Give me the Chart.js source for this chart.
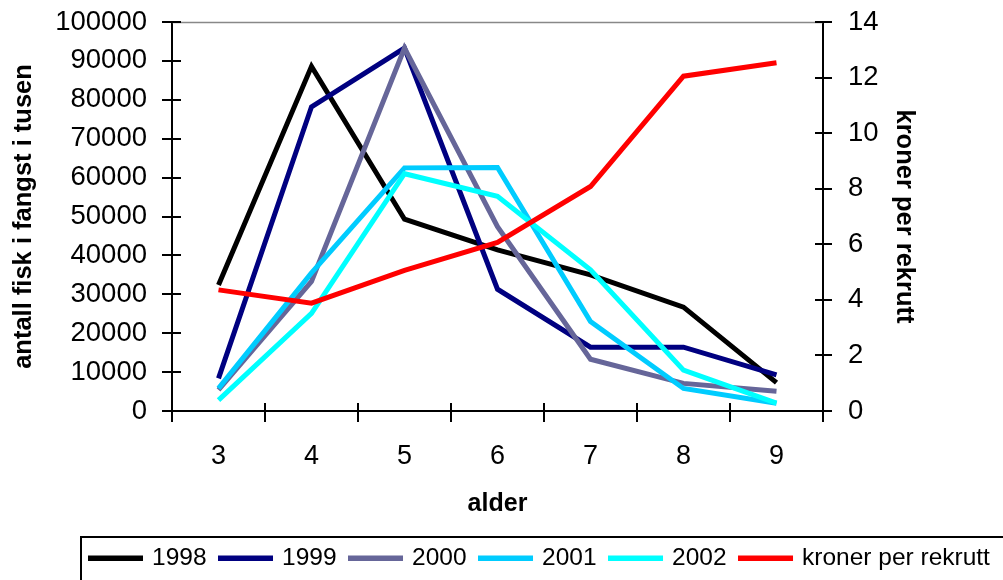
<!DOCTYPE html>
<html><head><meta charset="utf-8">
<script src="https://cdn.jsdelivr.net/npm/chart.js@4"></script>
<style>html,body{margin:0;padding:0;background:#fff;overflow:hidden}</style>
</head><body>
<canvas id="c" width="1003" height="580"></canvas>
<script>
const ages = ['3', '4', '5', '6', '7', '8', '9'];
const s1998 = [32400, 88600, 49300, 41400, 35000, 26700, 7300];
const s1999 = [8400, 78200, 93300, 31300, 16400, 16400, 9300];
const s2000 = [5400, 33300, 93300, 47400, 13300, 7100, 5100];
const s2001 = [5800, 35500, 62500, 62600, 23000, 5800, 2000];
const s2002 = [2800, 25100, 61000, 55200, 36300, 10500, 2000];
const kronerPerRekrutt = [4.36, 3.88, 5.06, 6.07, 8.08, 12.05, 12.53];

const yearLabels = ['1998', '1999', '2000', '2001', '2002'];
const yearSeries = [s1998, s1999, s2000, s2001, s2002];
const yearColors = ['#000000', '#000080', '#666699', '#00CCFF', '#00FFFF'];
const kronerLabel = 'kroner per rekrutt';
const kronerColor = '#FF0000';

const leftTitle = 'antall fisk i fangst i tusen';
const rightTitle = 'kroner per rekrutt';
const xTitle = 'alder';

const FONT = '"Liberation Sans", Arial, Helvetica, sans-serif';
Chart.defaults.font.family = FONT;
Chart.defaults.color = '#000';

const datasets = yearSeries.map((d, i) => ({
  label: yearLabels[i], data: d, yAxisID: 'y',
  borderColor: yearColors[i], backgroundColor: yearColors[i],
  borderWidth: 5, pointRadius: 0, tension: 0, fill: false,
  borderJoinStyle: 'miter', order: yearSeries.length - i
}));
datasets.push({
  label: kronerLabel, data: kronerPerRekrutt, yAxisID: 'y2',
  borderColor: kronerColor, backgroundColor: kronerColor,
  borderWidth: 5, pointRadius: 0, tension: 0, fill: false,
  borderJoinStyle: 'miter', order: 0
});

const crossTicks = {
  id: 'crossTicks',
  beforeDatasetsDraw(chart) {
    const ctx = chart.ctx, ca = chart.chartArea;
    const xs = chart.scales.x, ys = chart.scales.y, y2 = chart.scales.y2;
    ctx.save();
    ctx.strokeStyle = '#888';
    ctx.lineWidth = 1.5;
    ctx.beginPath();
    ctx.moveTo(ca.left, ca.top + 0.5);
    ctx.lineTo(ca.right, ca.top + 0.5);
    ctx.stroke();
    ctx.strokeStyle = '#000';
    ctx.lineWidth = 2;
    ctx.beginPath();
    ys.ticks.forEach(t => {
      const py = Math.round(ys.getPixelForValue(t.value));
      ctx.moveTo(ca.left - 10, py); ctx.lineTo(ca.left + 9, py);
    });
    y2.ticks.forEach(t => {
      const py = Math.round(y2.getPixelForValue(t.value));
      ctx.moveTo(ca.right - 8, py); ctx.lineTo(ca.right + 9, py);
    });
    const n = xs.ticks.length;
    const step = n > 1 ? xs.getPixelForValue(1) - xs.getPixelForValue(0) : (ca.right - ca.left);
    for (let i = 0; i <= n; i++) {
      const px = Math.round(i < n ? xs.getPixelForValue(i) - step / 2 : xs.getPixelForValue(n - 1) + step / 2);
      ctx.moveTo(px, ca.bottom - 8); ctx.lineTo(px, ca.bottom + 11);
    }
    ctx.stroke();
    ctx.restore();
  }
};

const boxLegend = {
  id: 'boxLegend',
  afterDraw(chart) {
    const ctx = chart.ctx;
    ctx.save();
    ctx.strokeStyle = '#000';
    ctx.lineWidth = 2;
    ctx.strokeRect(81, 537, 940, 60);
    ctx.font = '24.5px ' + FONT;
    ctx.textBaseline = 'middle';
    ctx.textAlign = 'left';
    let x = 88;
    const cy = 558;
    chart.data.datasets.forEach(ds => {
      ctx.fillStyle = ds.borderColor;
      ctx.fillRect(x, cy - 2.5, 55, 5.5);
      x += 55 + 9;
      ctx.fillStyle = '#000';
      ctx.fillText(ds.label, x, cy);
      x += ctx.measureText(ds.label).width + 11.5;
    });
    ctx.restore();
  }
};

const plainNum = v => String(v);

new Chart(document.getElementById('c'), {
  type: 'line',
  data: { labels: ages, datasets },
  options: {
    responsive: false,
    animation: false,
    events: [],
    layout: { padding: { left: 0, right: 0, top: 22, bottom: 50 } },
    plugins: { legend: { display: false }, tooltip: { enabled: false } },
    scales: {
      x: {
        type: 'category', offset: true,
        grid: { display: false, offset: true },
        border: { display: true, color: '#000', width: 2 },
        ticks: { font: { size: 27 }, color: '#000', padding: 21, maxRotation: 0, autoSkip: false },
        title: { display: true, text: xTitle, font: { size: 25, weight: 'bold' }, color: '#000', padding: { top: 0, bottom: 11 } },
        afterFit(s) { s.height = 119; s.paddingLeft = 0; s.paddingRight = 0; }
      },
      y: {
        position: 'left', min: 0, max: 100000,
        grid: { display: false },
        border: { display: true, color: '#000', width: 2 },
        ticks: { stepSize: 10000, font: { size: 27.5 }, color: '#000', padding: 17, callback: plainNum },
        title: { display: true, text: leftTitle, font: { size: 25.5, weight: 'bold' }, color: '#000', padding: { top: 9, bottom: 0 } },
        afterFit(s) { s.width = 172; s.paddingTop = 0; s.paddingBottom = 0; }
      },
      y2: {
        position: 'right', min: 0, max: 14,
        grid: { display: false },
        border: { display: true, color: '#000', width: 2 },
        ticks: { stepSize: 2, font: { size: 27.5 }, color: '#000', padding: 17, callback: plainNum },
        title: { display: true, text: rightTitle, font: { size: 25.5, weight: 'bold' }, color: '#000', padding: { top: 84, bottom: 0 } },
        afterFit(s) { s.width = 180; s.paddingTop = 0; s.paddingBottom = 0; }
      }
    }
  },
  plugins: [crossTicks, boxLegend]
});
</script>
</body></html>
